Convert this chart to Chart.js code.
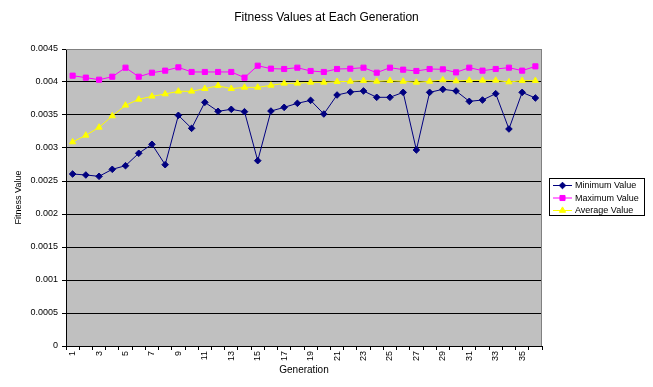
<!DOCTYPE html>
<html>
<head>
<meta charset="utf-8">
<style>
  html, body { margin: 0; padding: 0; background: #ffffff; }
  #wrap { width: 653px; height: 387px; }
</style>
<script src="https://cdn.jsdelivr.net/npm/chart.js@4/dist/chart.umd.min.js"></script>
</head>
<body>
<div id="wrap"><canvas id="canvas" width="653" height="387"></canvas></div>
<script>
'use strict';

let generations = ['1', '2', '3', '4', '5', '6', '7', '8', '9', '10', '11', '12',
   '13', '14', '15', '16', '17', '18', '19', '20', '21', '22', '23', '24',
   '25', '26', '27', '28', '29', '30', '31', '32', '33', '34', '35', '36'];

let minimumValues = [0.002606, 0.002591, 0.002571, 0.002677, 0.002732, 0.00292,
   0.003056, 0.002747, 0.003495, 0.003298, 0.003692, 0.003556,
   0.003586, 0.00355, 0.002808, 0.00356, 0.003616, 0.003677,
   0.003722, 0.003515, 0.003803, 0.003848, 0.003864, 0.003768,
   0.003768, 0.003843, 0.00297, 0.003843, 0.003889, 0.003864,
   0.003707, 0.003727, 0.003823, 0.003288, 0.003843, 0.003758];

let maximumValues = [0.004096, 0.004066, 0.004035, 0.00408, 0.004217, 0.00408,
   0.004141, 0.004172, 0.004222, 0.004152, 0.004152, 0.004152,
   0.004152, 0.004066, 0.004247, 0.004202, 0.004197, 0.004217,
   0.004167, 0.004152, 0.004197, 0.004202, 0.004217, 0.004141,
   0.004217, 0.004187, 0.004167, 0.004197, 0.004192, 0.004146,
   0.004217, 0.004172, 0.004197, 0.004217, 0.004172, 0.004237];

let averageValues = [0.003091, 0.003192, 0.003313, 0.003485, 0.003647, 0.003737,
   0.003783, 0.003818, 0.003859, 0.003859, 0.003899, 0.003944,
   0.003899, 0.003919, 0.003919, 0.003949, 0.00398, 0.00398,
   0.003995, 0.003995, 0.004005, 0.00401, 0.00402, 0.00401,
   0.00402, 0.00401, 0.003995, 0.00401, 0.00403, 0.004015,
   0.004025, 0.004025, 0.004025, 0.004, 0.00402, 0.00402];

let yTicks = [0, 0.0005, 0.001, 0.0015, 0.002, 0.0025, 0.003, 0.0035, 0.004, 0.0045];

const FONT = '"Liberation Sans", Arial, sans-serif';

function series(label, data, color, pointStyle, radius) {
   return {
      label,
      data,
      borderColor: color,
      backgroundColor: color,
      borderWidth: 1,
      pointStyle,
      pointRadius: radius,
      pointHoverRadius: radius,
      pointBorderWidth: 1,
      tension: 0
   };
}

// grey plot area and its thin border, like the old spreadsheet charts
let plotArea = {
   id: 'plotArea',
   beforeDraw(chart) {
      let {ctx, chartArea: a} = chart;
      ctx.save();
      ctx.fillStyle = '#c0c0c0';
      ctx.fillRect(a.left, a.top, a.right - a.left, a.bottom - a.top);
      ctx.restore();
   },
   afterDatasetsDraw(chart) {
      let {ctx, chartArea: a} = chart;
      ctx.save();
      ctx.strokeStyle = '#808080';
      ctx.lineWidth = 1;
      ctx.beginPath();
      ctx.moveTo(a.left, a.top + 0.5);
      ctx.lineTo(a.right - 0.5, a.top + 0.5);
      ctx.lineTo(a.right - 0.5, a.bottom);
      ctx.stroke();
      ctx.restore();
   }
};

// boxed legend to the right of the plot
let boxLegend = {
   id: 'boxLegend',
   afterDraw(chart) {
      let ctx = chart.ctx;
      let left = 549, top = 178, width = 96, height = 38;
      ctx.save();
      ctx.fillStyle = '#ffffff';
      ctx.fillRect(left, top, width, height);
      ctx.strokeStyle = '#000000';
      ctx.lineWidth = 1;
      ctx.strokeRect(left + 0.5, top + 0.5, width - 1, height - 1);
      chart.data.datasets.forEach((ds, i) => {
         let y = top + 7.5 + i * 12.5;
         ctx.strokeStyle = ds.borderColor;
         ctx.fillStyle = ds.backgroundColor;
         ctx.lineWidth = 1;
         ctx.beginPath();
         ctx.moveTo(553, y);
         ctx.lineTo(572, y);
         ctx.stroke();
         Chart.helpers.drawPoint(ctx, {
            pointStyle: ds.pointStyle,
            radius: ds.pointRadius,
            borderWidth: 1,
            rotation: 0
         }, 562.5, y);
         ctx.fillStyle = '#000000';
         ctx.font = '9px ' + FONT;
         ctx.textAlign = 'left';
         ctx.textBaseline = 'middle';
         ctx.fillText(ds.label, 575, y + 0.5);
      });
      ctx.restore();
   }
};

let ctx = document.querySelector('#canvas').getContext('2d');
let chart = new Chart(ctx, {
   type: 'line',
   data: {
      labels: generations,
      datasets: [
         series('Minimum Value', minimumValues, '#000080', 'rectRot', 3.3),
         series('Maximum Value', maximumValues, '#ff00ff', 'rect', 3.6),
         series('Average Value', averageValues, '#ffff00', 'triangle', 3.6)
      ]
   },
   options: {
      responsive: false,
      animation: false,
      layout: {padding: 0},
      plugins: {
         legend: {display: false},
         tooltip: {enabled: false},
         title: {
            display: true,
            text: 'Fitness Values at Each Generation',
            color: '#000000',
            font: {family: FONT, size: 12, weight: 'normal', lineHeight: 1},
            padding: {top: 12, bottom: 25}
         }
      },
      scales: {
         x: {
            offset: true,
            grid: {
               offset: true,
               drawOnChartArea: false,
               drawTicks: true,
               tickLength: 4,
               color: '#000000'
            },
            border: {display: true, color: '#000000', width: 1},
            ticks: {
               autoSkip: false,
               minRotation: 90,
               maxRotation: 90,
               padding: 1,
               color: '#000000',
               font: {family: FONT, size: 9},
               callback: (v, i) => i % 2 === 0 ? generations[i] : ''
            },
            title: {
               display: true,
               text: 'Generation',
               color: '#000000',
               font: {family: FONT, size: 10},
               padding: {top: 0, bottom: 11}
            },
            afterFit: (scale) => { scale.height = 41; }
         },
         y: {
            min: 0,
            max: 0.0045,
            afterBuildTicks: (scale) => { scale.ticks = yTicks.map(v => ({value: v})); },
            grid: {
               color: (c) => c.tick && c.tick.value === 0.0045 ? '#808080' : '#000000',
               tickColor: '#000000',
               tickLength: 4,
               lineWidth: 1
            },
            border: {display: true, color: '#000000', width: 1},
            ticks: {
               padding: 4,
               color: '#000000',
               font: {family: FONT, size: 9},
               callback: (v) => String(+Number(v).toFixed(4))
            },
            title: {
               display: true,
               text: 'Fitness Value',
               color: '#000000',
               font: {family: FONT, size: 9},
               padding: {top: 13, bottom: 0}
            },
            afterFit: (scale) => { scale.width = 66; }
         },
         // empty axis that only reserves room for the legend on the right
         legendRoom: {
            position: 'right',
            display: true,
            grid: {display: false, drawTicks: false},
            border: {display: false},
            ticks: {display: false},
            afterFit: (scale) => { scale.width = 111; }
         }
      }
   },
   plugins: [plotArea, boxLegend]
});
</script>
</body>
</html>
